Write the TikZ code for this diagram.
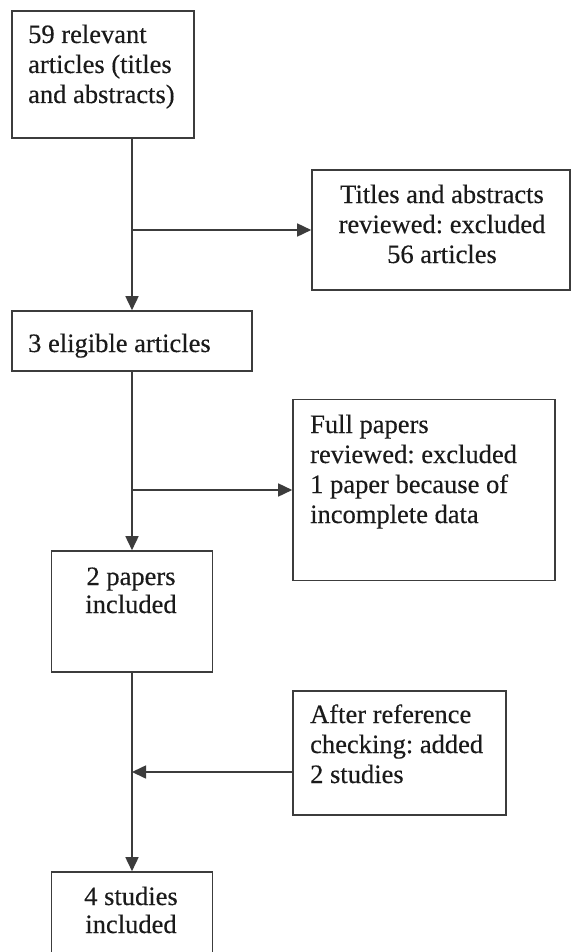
\documentclass[tikz,border=0pt]{standalone}
\usepackage{fontspec}
\setmainfont{Liberation Serif}[BoldFont={Liberation Serif},BoldFeatures={FakeBold=0.35}]
\usetikzlibrary{arrows.meta}
\frenchspacing
\definecolor{linec}{HTML}{3C3C3C}
\definecolor{textc}{HTML}{1A1A1A}
\tikzset{
  box/.style={draw=linec, line width=1.6pt, rectangle, inner sep=0pt, fill=white},
  txt/.style={inner sep=0pt, text=textc, font=\fontsize{26.5}{30}\selectfont\bfseries\frenchspacing},
  txtb/.style={inner sep=0pt, text=textc, font=\fontsize{26.5}{28}\selectfont\bfseries\frenchspacing},
  arr/.style={draw=linec, line width=1.6pt, -{Triangle[length=14pt,width=13pt]}},
  ln/.style={draw=linec, line width=1.6pt}
}
\begin{document}
\begin{tikzpicture}[x=1pt,y=1pt]
\useasboundingbox (0,0) rectangle (571,-952);
\clip (0,0) rectangle (571,-952);
\fill[white] (0,0) rectangle (571,-952);
% boxes
\node[box, minimum width=182pt, minimum height=127pt] (b1) at (103,-74.5) {};
\node[box, minimum width=258pt, minimum height=120pt] (b2) at (441,-230) {};
\node[box, minimum width=240pt, minimum height=60pt] (b3) at (132,-341) {};
\node[box, minimum width=262pt, minimum height=181pt] (b4) at (424,-490) {};
\node[box, minimum width=161pt, minimum height=121pt] (b5) at (132,-611.5) {};
\node[box, minimum width=213pt, minimum height=124pt] (b6) at (399.5,-753) {};
\node[box, minimum width=161pt, minimum height=84pt] (b7) at (132,-914) {};
% texts
\node[txt, anchor=base west] (t1) at (28,-43) {\begin{tabular}[t]{@{}l@{}}59 relevant\\articles (titles\\and abstracts)\end{tabular}};
\node[txt, anchor=base] (t2) at (442,-203) {\begin{tabular}[t]{@{}c@{}}Titles and abstracts\\reviewed: excluded\\56 articles\end{tabular}};
\node[txt, anchor=base west] (t3) at (28,-352) {3 eligible articles};
\node[txt, anchor=base west] (t4) at (310,-433) {\begin{tabular}[t]{@{}l@{}}Full papers\\reviewed: excluded\\1 paper because of\\incomplete data\end{tabular}};
\node[txtb, anchor=base] (t5) at (131,-585) {\begin{tabular}[t]{@{}c@{}}2 papers\\included\end{tabular}};
\node[txt, anchor=base west] (t6) at (310,-723) {\begin{tabular}[t]{@{}l@{}}After reference\\checking: added\\2 studies\end{tabular}};
\node[txtb, anchor=base] (t7) at (131,-905) {\begin{tabular}[t]{@{}c@{}}4 studies\\included\end{tabular}};
% connectors
\draw[arr] (b3.north |- b1.south) -- (b3.north);
\draw[arr] (b3.north |- b2.west) -- (b2.west);
\draw[arr] (b3.south) -- (b5.north);
\draw[arr] (b5.north |- b4.west) -- (b4.west);
\coordinate (j3) at (132,-772);
\draw[arr] (b5.south) -- (b7.north);
\draw[arr] (b6.west |- j3) -- (j3);
\end{tikzpicture}
\end{document}
